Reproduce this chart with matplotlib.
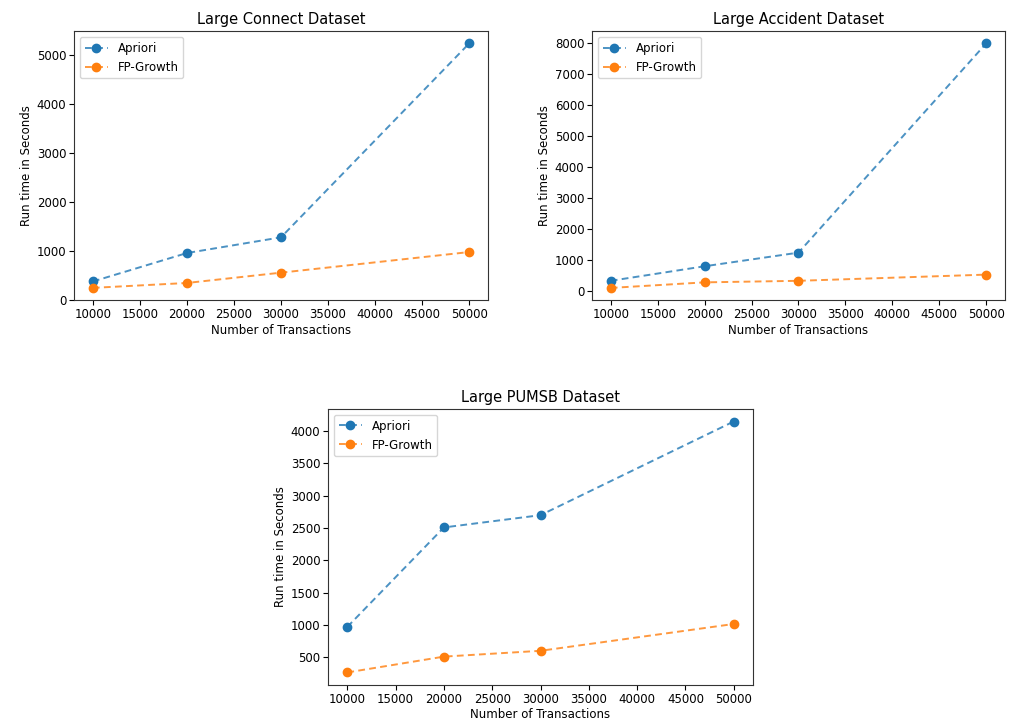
import matplotlib
matplotlib.use("Agg")
import matplotlib.pyplot as plt
from matplotlib.colors import to_rgba

transactions = [10000, 20000, 30000, 50000]

connect_apriori = [380, 960, 1280, 5230]
connect_fp = [250, 350, 560, 980]

accident_apriori = [330, 800, 1240, 8000]
accident_fp = [100, 280, 330, 530]

pumsb_apriori = [970, 2510, 2700, 4150]
pumsb_fp = [265, 510, 600, 1015]

titles = ["Large Connect Dataset", "Large Accident Dataset", "Large PUMSB Dataset"]
series = [(connect_apriori, connect_fp),
          (accident_apriori, accident_fp),
          (pumsb_apriori, pumsb_fp)]

blue = '#1f77b4'
orange = '#ff7f0e'

fig = plt.figure(figsize=(10.18, 7.25), dpi=100)
ax1 = fig.add_axes([0.0727, 0.586, 0.4067, 0.371])
ax2 = fig.add_axes([0.5815, 0.586, 0.4057, 0.371])
ax3 = fig.add_axes([0.3222, 0.0552, 0.4175, 0.3807])

for ax, title, (apr, fp) in zip([ax1, ax2, ax3], titles, series):
    ax.plot(transactions, apr, '--o', color=to_rgba(blue, 0.8), mfc=blue, mec=blue,
            lw=1.4, ms=6, dashes=(3.5, 2.2), label='Apriori')
    ax.plot(transactions, fp, '--o', color=to_rgba(orange, 0.8), mfc=orange, mec=orange,
            lw=1.4, ms=6, dashes=(3.5, 2.2), label='FP-Growth')
    ax.set_title(title, fontsize=10.5, pad=5)
    ax.set_xlabel("Number of Transactions", fontsize=8.5, labelpad=2)
    ax.set_ylabel("Run time in Seconds", fontsize=8.5, labelpad=3)
    ax.set_xticks([10000, 15000, 20000, 25000, 30000, 35000, 40000, 45000, 50000])
    ax.tick_params(labelsize=8.5, length=3.5, pad=2)
    ax.legend(loc='upper left', fontsize=8.5)
    for sp in ax.spines.values():
        sp.set_color('#333333')

ax1.set_yticks([0, 1000, 2000, 3000, 4000, 5000])
ax2.set_yticks([0, 1000, 2000, 3000, 4000, 5000, 6000, 7000, 8000])
ax3.set_yticks([500, 1000, 1500, 2000, 2500, 3000, 3500, 4000])

fig.savefig("out.png", dpi=100)
